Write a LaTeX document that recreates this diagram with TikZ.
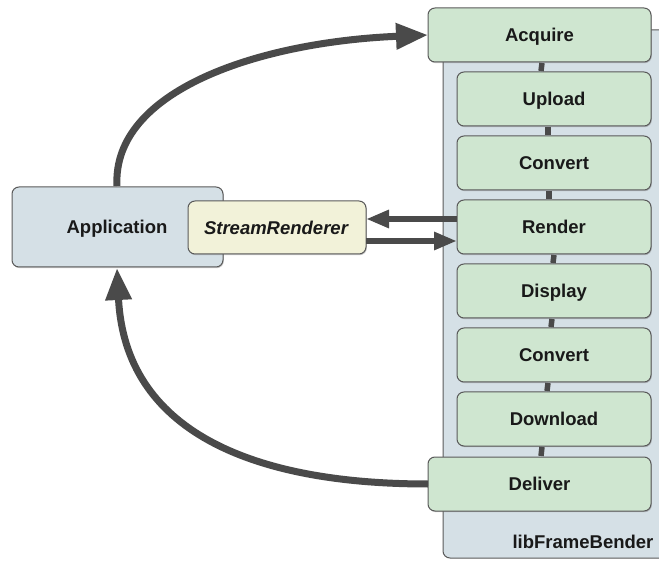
\documentclass[tikz,border=0pt]{standalone}
\usepackage{fontspec}
\setmainfont{Liberation Sans}
\usetikzlibrary{arrows.meta,shadows}
\definecolor{stagefill}{HTML}{CFE6D0}
\definecolor{contfill}{HTML}{D5E0E6}
\definecolor{appfill}{HTML}{D5E0E6}
\definecolor{srfill}{HTML}{F2F2D9}
\definecolor{edge}{HTML}{5A5A5A}
\definecolor{linec}{HTML}{4A4A4A}
\tikzset{
  x=1pt, y=-1pt,
  lbl/.style={font=\fontsize{18.5}{22}\selectfont\bfseries, text=black!90,
    text height=13.5pt, text depth=0pt, inner sep=0pt},
  boxbase/.style={draw=edge, line width=1pt, rounded corners=7pt,
    drop shadow={shadow xshift=0.8pt, shadow yshift=-1.2pt, opacity=0.35, fill=black!60}},
  stagebox/.style={boxbase, fill=stagefill},
  link/.style={draw=linec, line width=5.5pt},
  flow/.style={draw=linec, line width=7pt, -{Triangle[length=32pt,width=25pt]}},
  hflow/.style={draw=linec, line width=6pt, -{Triangle[length=23pt,width=17pt]}},
}
\begin{document}
\begin{tikzpicture}
\useasboundingbox (0,0) rectangle (659,561);
\begin{scope}
\clip (0,0) rectangle (659,561);
% container
\path[draw=edge, line width=1pt, fill=contfill, rounded corners=7pt] (443,30) rectangle (690,558);
\node[lbl] (libname) at (583,542) {libFrameBender};
% stages
\path[stagebox] (428,8) rectangle (651,62);
\node[lbl] (acquire) at (539.5,35) {Acquire};
\path[stagebox] (457,72) rectangle (651,126);
\node[lbl] (upload) at (554,99) {Upload};
\path[stagebox] (457,136) rectangle (651,190);
\node[lbl] (convert1) at (554,163) {Convert};
\path[stagebox] (457,200) rectangle (651,254);
\node[lbl] (render) at (554,227) {Render};
\path[stagebox] (457,264) rectangle (651,318);
\node[lbl] (display) at (554,291) {Display};
\path[stagebox] (457,328) rectangle (651,382);
\node[lbl] (convert2) at (554,355) {Convert};
\path[stagebox] (457,392) rectangle (651,446);
\node[lbl] (download) at (554,419) {Download};
\path[stagebox] (428,457) rectangle (651,511);
\node[lbl] (deliver) at (539.5,484) {Deliver};
% links between stages
\coordinate (l1a) at (542,63); \coordinate (l1b) at (541,71);
\draw[link] (l1a) -- (l1b);
\coordinate (l2a) at (548,127); \coordinate (l2b) at (548,135);
\draw[link] (l2a) -- (l2b);
\coordinate (l3a) at (549,191); \coordinate (l3b) at (549,199);
\draw[link] (l3a) -- (l3b);
\coordinate (l4a) at (554,255); \coordinate (l4b) at (553,263);
\draw[link] (l4a) -- (l4b);
\coordinate (l5a) at (552,319); \coordinate (l5b) at (551,327);
\draw[link] (l5a) -- (l5b);
\coordinate (l6a) at (548,383); \coordinate (l6b) at (547,391);
\draw[link] (l6a) -- (l6b);
\coordinate (l7a) at (542,447); \coordinate (l7b) at (541,456);
\draw[link] (l7a) -- (l7b);
% application
\path[boxbase, fill=appfill] (12,187) rectangle (223,267);
\node[lbl] (app) at (117,227) {Application};
\path[boxbase, fill=srfill] (188,201) rectangle (366,254);
\node[lbl, font=\fontsize{18.5}{22}\selectfont\bfseries\itshape] (sr) at (276,227.5) {StreamRenderer};
% arrows
\coordinate (appTop) at (117,186);
\coordinate (acqL) at (428,35);
\draw[flow] (appTop) .. controls (112,90) and (260,42) .. (acqL);
\coordinate (delL) at (428,484);
\coordinate (appBot) at (117,268);
\draw[flow] (delL) .. controls (250,484) and (125,430) .. (appBot);
\coordinate (rL1) at (457,219);
\coordinate (sR1) at (366,219);
\draw[hflow] (rL1) -- (sR1);
\coordinate (sR2) at (366,241);
\coordinate (rL2) at (457,241);
\draw[hflow] (sR2) -- (rL2);
\end{scope}
\end{tikzpicture}
\end{document}
